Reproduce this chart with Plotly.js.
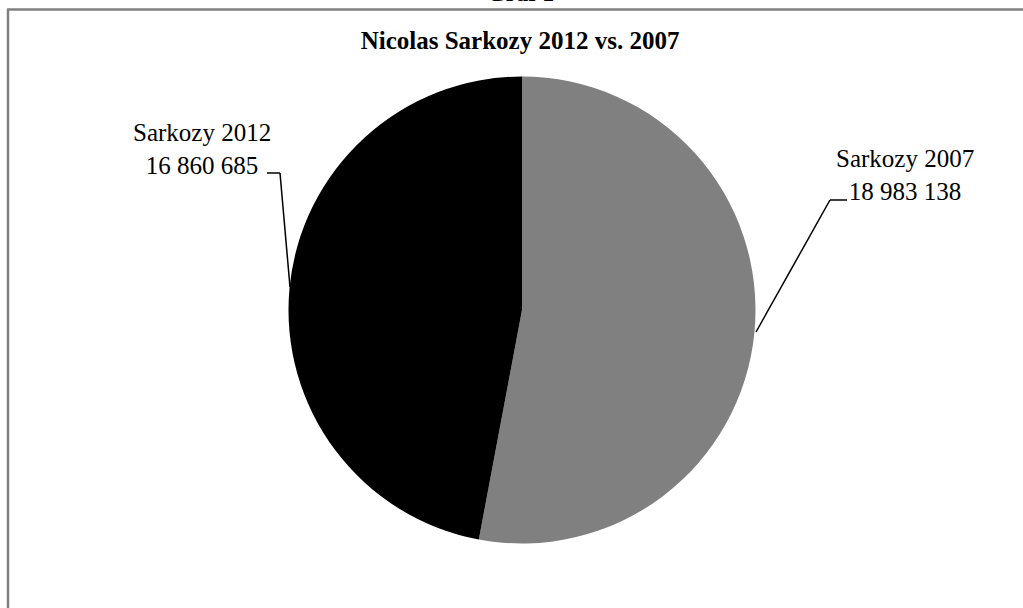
<!DOCTYPE html>
<html>
<head>
<meta charset="utf-8">
<script src="https://cdn.plot.ly/plotly-3.0.1.min.js"></script>
<style>html,body{margin:0;padding:0;background:#fff;}#chart{width:1023px;height:608px;}</style>
</head>
<body>
<div id="chart"></div>
<script>
// Data
const labels = ["Sarkozy 2007", "Sarkozy 2012"];
const values = [18983138, 16860685];
const colors = ["#808080", "#000000"];
const chartTitle = "Nicolas Sarkozy 2012 vs. 2007";
const topCaption = "Graf 1";

const W = 1023, H = 608;
const px = x => x / W;
const py = y => 1 - y / H;
const fmt = v => String(v).replace(/\B(?=(\d{3})+(?!\d))/g, " ");
const serif = "Liberation Serif";

const trace = {
  type: "pie",
  labels: labels,
  values: values,
  sort: false,
  direction: "clockwise",
  rotation: 0,
  textinfo: "none",
  hoverinfo: "label+value",
  marker: {colors: colors, line: {width: 0}},
  domain: {x: [px(522 - 233.5), px(522 + 233.5)], y: [py(310 + 233.5), py(310 - 233.5)]},
  showlegend: false
};

const lineStyle = {color: "#000000", width: 1.5};
const border = {color: "#808080", width: 2.5};

const layout = {
  width: W, height: H,
  margin: {l: 0, r: 0, t: 0, b: 0},
  paper_bgcolor: "#ffffff",
  showlegend: false,
  font: {family: serif},
  title: {
    text: chartTitle,
    x: px(520), xanchor: "center",
    y: py(40), yanchor: "middle",
    font: {family: serif, size: 25, color: "#000000", weight: "bold"}
  },
  annotations: [
    {text: labels[1] + "<br>" + fmt(values[1]), x: px(202), y: py(149), xref: "paper", yref: "paper",
     xanchor: "center", yanchor: "middle", align: "center", showarrow: false,
     font: {family: serif, size: 25, color: "#000000"}},
    {text: labels[0] + "<br>" + fmt(values[0]), x: px(905), y: py(175), xref: "paper", yref: "paper",
     xanchor: "center", yanchor: "middle", align: "center", showarrow: false,
     font: {family: serif, size: 25, color: "#000000"}},
    {text: "<b>" + topCaption + "</b>", x: px(520), y: py(-7), xref: "paper", yref: "paper",
     xanchor: "center", yanchor: "middle", showarrow: false,
     font: {family: serif, size: 24, color: "#000000"}}
  ],
  shapes: [
    {type: "line", xref: "paper", yref: "paper", x0: px(7), x1: 1, y0: py(9.5), y1: py(9.5), line: border},
    {type: "line", xref: "paper", yref: "paper", x0: px(8), x1: px(8), y0: py(9.5), y1: 0, line: border},
    {type: "line", xref: "paper", yref: "paper", x0: px(267), x1: px(280), y0: py(173), y1: py(173), line: lineStyle},
    {type: "line", xref: "paper", yref: "paper", x0: px(280), x1: px(290), y0: py(173), y1: py(287), line: lineStyle},
    {type: "line", xref: "paper", yref: "paper", x0: px(847), x1: px(830), y0: py(200), y1: py(200), line: lineStyle},
    {type: "line", xref: "paper", yref: "paper", x0: px(830), x1: px(756), y0: py(200), y1: py(332), line: lineStyle}
  ]
};

Plotly.newPlot("chart", [trace], layout, {displayModeBar: false, staticPlot: true});
</script>
</body>
</html>
